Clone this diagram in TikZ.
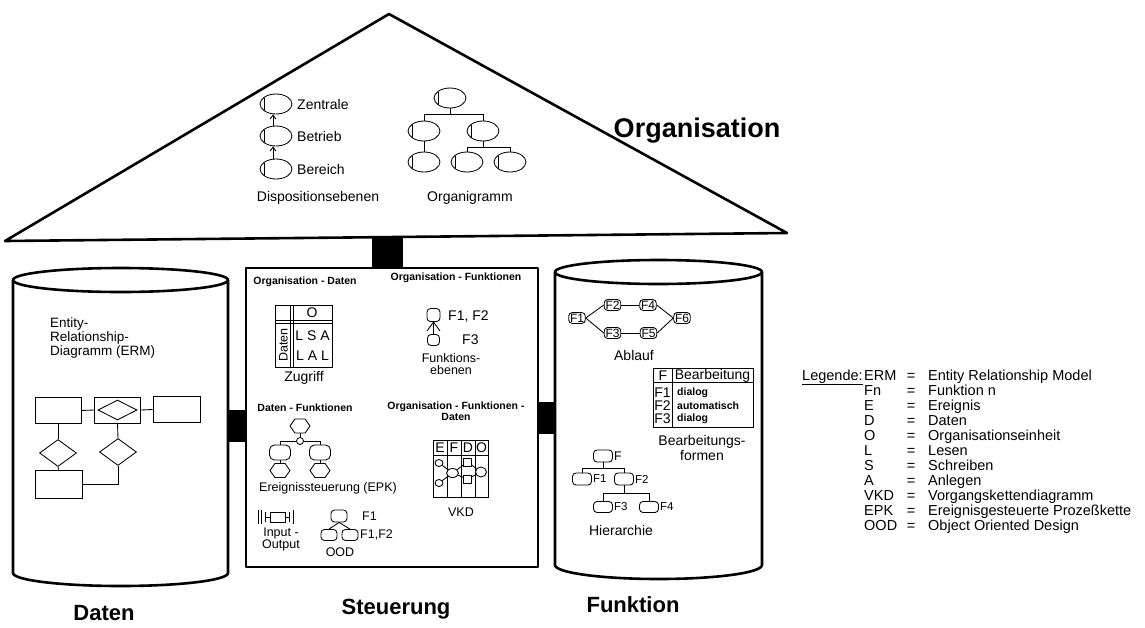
\documentclass[tikz,border=0pt]{standalone}
\usepackage{fontspec}
\setmainfont{Liberation Sans}
\usetikzlibrary{shapes.geometric,shapes.symbols,arrows.meta,calc}
\begin{document}
\begin{tikzpicture}[x=1pt,y=-1pt,
  link/.style={line width=0.85pt},
  heavy/.style={line width=2.6pt, line join=round},
  lbl/.style={font=\fontsize{14}{13}\selectfont, inner sep=0pt},
  small/.style={font=\fontsize{12.5}{12}\selectfont, inner sep=0pt},
  tiny/.style={font=\fontsize{11.5}{11}\selectfont, inner sep=0pt},
  hdr/.style={font=\bfseries\fontsize{10.5}{11}\selectfont, inner sep=0pt},
  title/.style={font=\bfseries\fontsize{22}{24}\selectfont, inner sep=0pt},
  orgunit/.style={ellipse, draw, line width=0.85pt, minimum width=32pt, minimum height=20pt, inner sep=0pt,
     path picture={\draw[line width=0.85pt] ([xshift=4pt,yshift=-6.5pt]path picture bounding box.west) -- ++(0,13pt);}},
  fbox/.style={draw, fill=white, line width=0.85pt, rounded corners=3.5pt, inner sep=1.3pt, font=\fontsize{12}{12}\selectfont},
  fsym/.style={draw, fill=white, line width=0.85pt, rounded corners=3.5pt, inner sep=0pt},
  event/.style={signal, signal to=west and east, draw, line width=0.85pt, minimum width=20pt, minimum height=14pt, inner sep=0pt, signal pointer angle=110},
  entity/.style={draw, line width=0.85pt, inner sep=0pt, minimum width=46pt, minimum height=26pt},
  relship/.style={diamond, draw, fill=white, line width=0.85pt, inner sep=0pt, minimum width=37pt, minimum height=27pt},
  upto/.style={line width=0.85pt, -{Straight Barb[length=4pt,width=6pt]}},
  blob/.style={draw, fill=white, line width=0.85pt, inner sep=0pt},
]
\fill[white] (0,0) rectangle (1145,627);
\useasboundingbox (0,0) rectangle (1145,627);

% ---------- roof: Organisation ----------
\draw[heavy] (5,241) -- (389,14) -- (787,233) -- cycle;
\node[font=\bfseries\fontsize{27}{29}\selectfont, inner sep=0pt] (tOrgan) at (697,131) {Organisation};

% Dispositionsebenen
\node[orgunit] (zen) at (276,104) {};
\node[orgunit] (bet) at (276,136) {};
\node[orgunit] (ber) at (276,169) {};
\draw[upto] ([xshift=-3pt]bet.north) -- ([xshift=-3pt]zen.south);
\draw[upto] ([xshift=-3pt]ber.north) -- ([xshift=-3pt]bet.south);
\node[lbl, anchor=west] (tZen) at (297,104) {Zentrale};
\node[lbl, anchor=west] (tBet) at (297,136) {Betrieb};
\node[lbl, anchor=west] (tBer) at (297,169) {Bereich};
\node[lbl] (tDisp) at (318,198) {Dispositionsebenen};

% Organigramm
\node[orgunit] (o0) at (450,98) {};
\node[orgunit] (o1) at (424,131) {};
\node[orgunit] (o2) at (483,131) {};
\node[orgunit] (o11) at (424,162) {};
\node[orgunit] (o21) at (467,162) {};
\node[orgunit] (o22) at (510,162) {};
\draw[link] (o0.south) -- ++(0,-5.5pt) coordinate (ob1);
\draw[link] (ob1) -| (o1.north);
\draw[link] (ob1) -| (o2.north);
\draw[link] (o1.south) -- (o11.north);
\draw[link] (o2.south) -- ++(0,-5.5pt) coordinate (ob2);
\draw[link] (ob2) -| (o21.north);
\draw[link] (ob2) -| (o22.north);
\node[lbl] (tOrgi) at (470,198) {Organigramm};

% ---------- pillar and connectors ----------
\fill (372,236) rectangle (403,268);
\fill (228,410) rectangle (246,442);
\fill (538,402) rectangle (555,434);

% ---------- Daten cylinder ----------
\draw[heavy] (13,280) -- (13,573) arc[start angle=180, end angle=360, x radius=107.5pt, y radius=13pt] -- (228,280);
\draw[heavy] (120.5,280) ellipse [x radius=107.5pt, y radius=12pt];
\node[inner sep=0pt, align=left, anchor=north west, font=\fontsize{13.5}{12.5}\selectfont] (tErm) at (50,318) {Entity-\\Relationship-\\Diagramm (ERM)};

\node[entity] (en1) at (58,410.5) {};
\node[entity] (en2) at (117.5,410) {};
\node[relship, minimum width=39pt, minimum height=20pt] (r0) at (117.5,410) {};
\node[entity, minimum width=47pt] (en3) at (176.5,409.5) {};
\node[relship] (r1) at (58,453) {};
\node[relship] (r2) at (118,452) {};
\node[entity, minimum width=47pt, minimum height=28pt] (en4) at (58.5,484) {};
\draw[link] (en1.east) -- (en2.west);
\draw[link] (en2.east) -- (en3.west);
\draw[link] (en1.south) -- (r1.north);
\draw[link] (r1.south) -- (en4.north);
\draw[link] (en2.south) -- (r2.north);
\draw[link] (r2.south) |- (en4.east);

% ---------- Steuerung box ----------
\draw[heavy] (246,268) rectangle (538,567);
\node[hdr] (hOD) at (305,282) {Organisation - Daten};
\node[hdr] (hOF) at (456,278) {Organisation - Funktionen};

% Zugriff matrix
\draw[link] (275,305) rectangle (332,367);
\draw[link] (290,305) -- (290,367) (293,305) -- (293,367);
\draw[link] (275,320) -- (332,320) (275,323) -- (332,323);
\node[lbl] (zO) at (312,312.5) {O};
\node[font=\fontsize{12.5}{12}\selectfont, inner sep=0pt, rotate=90] (zD) at (283.5,345) {Daten};
\node[lbl] (zR1) at (312.5,335.5) {L S A};
\node[lbl] (zR2) at (312.5,356) {L A L};
\node[lbl] (tZug) at (304,378) {Zugriff};

% Funktionsebenen
\node[fsym, minimum width=13pt, minimum height=13pt] (fe1) at (433.5,315) {};
\node[fsym, minimum width=12pt, minimum height=11pt] (fe2) at (433.5,340) {};
\coordinate (feL) at (427,331);
\coordinate (feR) at (440,331);
\draw[link] (fe1.south) -- (fe2.north);
\draw[link] (fe1.south) -- (feL);
\draw[link] (fe1.south) -- (feR);
\node[lbl, anchor=west] (tF12) at (448,317) {F1, F2};
\node[lbl, anchor=west] (tF3) at (462,340) {F3};
\node[small, align=center] (tFeb) at (451,364) {Funktions-\\ebenen};

% Ereignissteuerung
\node[hdr] (hDF) at (305,408) {Daten - Funktionen};
\node[hdr, align=center] (hOFD) at (456,411) {Organisation - Funktionen -\\Daten};
\node[event] (e0) at (300,426) {};
\node[circle, draw, fill=white, line width=0.85pt, minimum size=7pt, inner sep=0pt] (xor) at (300,441) {};
\node[fsym, rounded corners=5pt, minimum width=21pt, minimum height=15pt] (fL) at (280,452.5) {};
\node[fsym, rounded corners=5pt, minimum width=21pt, minimum height=15pt] (fR) at (320,452.5) {};
\node[event] (eL) at (280,470.5) {};
\node[event] (eR) at (320,470.5) {};
\draw[link] (e0.south) -- (xor.north);
\draw[link] (xor.west) -| (fL.north);
\draw[link] (xor.east) -| (fR.north);
\draw[link] (fL.south) -- (eL.north);
\draw[link] (fR.south) -- (eR.north);
\node[small] (tEpk) at (328,488) {Ereignissteuerung (EPK)};

% Input - Output
\node[blob, minimum width=15pt, minimum height=10pt] (io) at (277.5,517) {};
\coordinate (ioL) at (265,517);
\coordinate (ioR) at (289,517);
\draw[link] (io.west) -- (ioL) (io.east) -- (ioR);
\draw[link] (265,512) -- (265,522) (289,512) -- (289,522);
\draw[link] (258,510) -- (258,524) (261,510) -- (261,524) (293,510) -- (293,524);
\node[small, align=center] (tIO) at (281,539) {Input -\\Output};

% OOD
\node[fsym, minimum width=16pt, minimum height=12pt] (od0) at (339,516) {};
\node[fsym, minimum width=16pt, minimum height=11pt] (od1) at (329,535) {};
\node[fsym, minimum width=16pt, minimum height=11pt] (od2) at (350,535) {};
\draw[link] (od0.south) -- (od1.north);
\draw[link] (od0.south) -- (od2.north);
\node[small, anchor=west] (tOd1) at (362,516) {F1};
\node[small, anchor=west] (tOd2) at (360,535) {F1,F2};
\node[small] (tOOD) at (340,552) {OOD};

% VKD
\draw[link] (433,440) rectangle (488,497);
\draw[link] (447,440) -- (447,497) (461,440) -- (461,497) (475,440) -- (475,497);
\draw[link] (433,455) -- (488,455);
\node[lbl] (vE) at (440,448) {E};
\node[lbl] (vF) at (454,448) {F};
\node[lbl] (vD) at (468,448) {D};
\node[lbl] (vO) at (481.5,448) {O};
\node[blob, ellipse, minimum width=8pt, minimum height=7pt] (ve1) at (439,463) {};
\node[blob, ellipse, minimum width=8pt, minimum height=7pt] (ve2) at (439,483) {};
\node[blob, ellipse, minimum width=12pt, minimum height=9pt] (vf) at (452.5,473) {};
\node[blob, minimum size=8pt] (vd1) at (467.5,462) {};
\node[blob, minimum size=8pt] (vd2) at (467.5,479) {};
\node[blob, ellipse, minimum width=11pt, minimum height=10pt] (vo) at (481,472) {};
\draw[link] (ve1) -- (vf);
\draw[link] (ve2) -- (vf);
\draw[link] (vf) -- (vd1);
\draw[link] (vf) -- (vd2);
\draw[link] (vd1) -- (vo);
\draw[link] (vd2) -- (vo);
\node[small] (tVKD) at (461,512) {VKD};

% ---------- Funktion cylinder ----------
\draw[heavy] (555,272) -- (555,565) arc[start angle=180, end angle=360, x radius=103.5pt, y radius=14pt] -- (762,272);
\draw[heavy] (658.5,272) ellipse [x radius=103.5pt, y radius=12pt];

% Ablauf
\node[fbox] (a1) at (577,318) {F1};
\node[fbox] (a2) at (612.5,305) {F2};
\node[fbox] (a4) at (648,305) {F4};
\node[fbox] (a3) at (612.5,333) {F3};
\node[fbox] (a5) at (648.5,333) {F5};
\node[fbox] (a6) at (682,318) {F6};
\draw[link] (a1.east) -- (a2.west);
\draw[link] (a1.east) -- (a3.west);
\draw[link] (a2) -- (a4);
\draw[link] (a3) -- (a5);
\draw[link] (a4.east) -- (a6.west);
\draw[link] (a5.east) -- (a6.west);
\node[lbl] (tAbl) at (634,355) {Ablauf};

% Bearbeitungsformen
\draw[link] (653,368) rectangle (753,427);
\draw[link] (672,368) -- (672,427);
\draw[link] (653,382) -- (753,382);
\node[lbl] (bF) at (663,375.5) {F};
\node[lbl] (bB) at (712.5,375.5) {Bearbeitung};
\node[lbl] (bF1) at (662.5,393) {F1};
\node[lbl] (bF2) at (662.5,406) {F2};
\node[lbl] (bF3) at (662.5,419) {F3};
\node[hdr, anchor=west] (bD1) at (677,393) {dialog};
\node[hdr, anchor=west] (bD2) at (677,406) {automatisch};
\node[hdr, anchor=west] (bD3) at (677,419) {dialog};
\node[lbl, align=center] (tBf) at (702,448) {Bearbeitungs-\\formen};

% Hierarchie
\node[fsym, minimum width=19pt, minimum height=12pt] (hF) at (603,456) {};
\node[fsym, minimum width=19pt, minimum height=12pt] (h1) at (582,479) {};
\node[fsym, minimum width=19pt, minimum height=12pt] (h2) at (624,479) {};
\node[fsym, minimum width=19pt, minimum height=11pt] (h3) at (603,507) {};
\node[fsym, minimum width=19pt, minimum height=11pt] (h4) at (649,507) {};
\draw[link] (hF.south) -- ++(0,-6pt) coordinate (hb1);
\draw[link] (hb1) -| (h1.north);
\draw[link] (hb1) -| (h2.north);
\draw[link] (h2.south) -- ++(0,-8pt) coordinate (hb2);
\draw[link] (hb2) -| (h3.north);
\draw[link] (hb2) -| (h4.north);
\node[small, anchor=west] (thF) at (614,456) {F};
\node[tiny, anchor=west] (th1) at (593,479) {F1};
\node[tiny, anchor=west] (th2) at (635,479) {F2};
\node[tiny, anchor=west] (th3) at (614,507) {F3};
\node[tiny, anchor=west] (th4) at (660,507) {F4};
\node[lbl] (tHier) at (621,530) {Hierarchie};

% ---------- pillar titles ----------
\node[title] (tDaten) at (104,613) {Daten};
\node[title] (tSteu) at (396,609) {Steuerung};
\node[title] (tFunk) at (633,605) {Funktion};

% ---------- legend ----------
\node[font=\fontsize{14.5}{13}\selectfont, inner sep=0pt, anchor=base west] (lg) at (802,380) {\underline{Legende:}};
\foreach \ab/\ds [count=\i from 0] in {ERM/Entity Relationship Model, Fn/Funktion n, E/Ereignis, D/Daten,
    O/Organisationseinheit, L/Lesen, S/Schreiben, A/Anlegen, VKD/Vorgangskettendiagramm,
    EPK/Ereignisgesteuerte Prozeßkette, OOD/Object Oriented Design} {
  \node[font=\fontsize{14.5}{13}\selectfont, inner sep=0pt, anchor=base west] (lgA\i) at (864,380+15*\i) {\ab};
  \node[font=\fontsize{14.5}{13}\selectfont, inner sep=0pt, anchor=base] (lgE\i) at (911,380+15*\i) {=};
  \node[font=\fontsize{14.5}{13}\selectfont, inner sep=0pt, anchor=base west] (lgD\i) at (928,380+15*\i) {\ds};
}
\end{tikzpicture}
\end{document}
